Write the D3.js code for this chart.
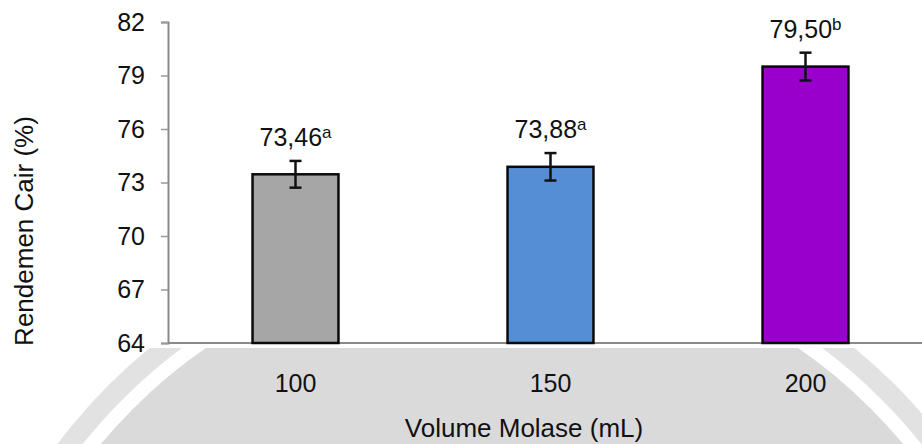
<!DOCTYPE html>
<html>
<head>
<meta charset="utf-8">
<script src="https://cdn.jsdelivr.net/npm/d3@7"></script>
<style>
body{margin:0;background:#fff;}
svg{display:block;font-family:"Liberation Sans",Arial,sans-serif;}
</style>
</head>
<body>
<svg width="922" height="444"></svg>
<script>
// data
var categories = ["100", "150", "200"];
var values = [73.46, 73.88, 79.50];
var errors = [0.75, 0.77, 0.78];
var letters = ["a", "a", "b"];
var yTicks = [64, 67, 70, 73, 76, 79, 82];

var barColors = ["#a6a6a6", "#558ed5", "#9900cc"];

var svg = d3.select("svg");
var W = 922, H = 444;
var mLeft = 168, mTop = 22, mBottom = 343;

// background: grey logo band under the chart
var clip = svg.append("defs").append("clipPath").attr("id", "band");
clip.append("rect").attr("x", 0).attr("y", 348).attr("width", W).attr("height", H - 348);
var logo = svg.append("g").attr("clip-path", "url(#band)");
logo.append("circle").attr("cx", 502).attr("cy", 778).attr("r", 556).style("fill", "#e2e2e2");
logo.append("circle").attr("cx", 502).attr("cy", 778).attr("r", 529)
	.style("fill", "#dadada").style("stroke", "#fff").style("stroke-width", 14);

var x = d3.scaleBand()
	.domain(categories)
	.range([mLeft, mLeft + 765])
	.paddingInner(0.663)
	.paddingOuter(0.3315);
var y = d3.scaleLinear().domain([64, 82]).range([mBottom, mTop]);

// y axis
var yAxis = svg.append("g")
	.attr("transform", "translate(" + mLeft + ",0)")
	.call(d3.axisLeft(y).tickValues(yTicks).tickSize(7).tickPadding(16));
yAxis.select(".domain").attr("stroke", "#8a8a8a").attr("stroke-width", 2);
yAxis.selectAll(".tick line").attr("stroke", "#9a9a9a").attr("stroke-width", 1.5);
yAxis.selectAll(".tick text")
	.attr("font-size", 25)
	.attr("fill", "#111")
	.attr("font-family", "Liberation Sans, Arial, sans-serif");

// x axis line
svg.append("line")
	.attr("x1", mLeft).attr("x2", W)
	.attr("y1", mBottom).attr("y2", mBottom)
	.style("stroke", "#8a8a8a")
	.style("stroke-width", 2);

// bars
for (var i = 0; i < categories.length; i++) {
	var cx = x(categories[i]) + x.bandwidth() / 2;
	svg.append("rect")
		.attr("x", x(categories[i]))
		.attr("y", y(values[i]))
		.attr("width", x.bandwidth())
		.attr("height", y(64) - y(values[i]))
		.style("fill", barColors[i])
		.style("stroke", "#0a0a0a")
		.style("stroke-width", 2.5);

	// error bar
	var hi = y(values[i] + errors[i]), lo = y(values[i] - errors[i]);
	svg.append("line").attr("x1", cx).attr("x2", cx).attr("y1", hi).attr("y2", lo)
		.style("stroke", "#111").style("stroke-width", 2.5);
	svg.append("line").attr("x1", cx - 6).attr("x2", cx + 6).attr("y1", hi).attr("y2", hi)
		.style("stroke", "#111").style("stroke-width", 2.5);
	svg.append("line").attr("x1", cx - 6).attr("x2", cx + 6).attr("y1", lo).attr("y2", lo)
		.style("stroke", "#111").style("stroke-width", 2.5);

	// value label with superscript letter
	var t = svg.append("text")
		.attr("x", cx)
		.attr("y", hi - 15)
		.attr("text-anchor", "middle")
		.attr("font-size", 25)
		.attr("fill", "#111");
	t.append("tspan").text(values[i].toFixed(2).replace(".", ","));
	t.append("tspan").attr("font-size", 17).attr("dy", -8).text(letters[i]);

	// category label
	svg.append("text")
		.attr("x", cx)
		.attr("y", 392)
		.attr("text-anchor", "middle")
		.attr("font-size", 25)
		.attr("fill", "#111")
		.text(categories[i]);
}

// axis titles
svg.append("text")
	.attr("x", 524)
	.attr("y", 437)
	.attr("text-anchor", "middle")
	.attr("font-size", 26)
	.attr("fill", "#111")
	.text("Volume Molase (mL)");
svg.append("text")
	.attr("transform", "translate(33,231) rotate(-90)")
	.attr("text-anchor", "middle")
	.attr("font-size", 26)
	.attr("fill", "#111")
	.text("Rendemen Cair (%)");
</script>
</body>
</html>
